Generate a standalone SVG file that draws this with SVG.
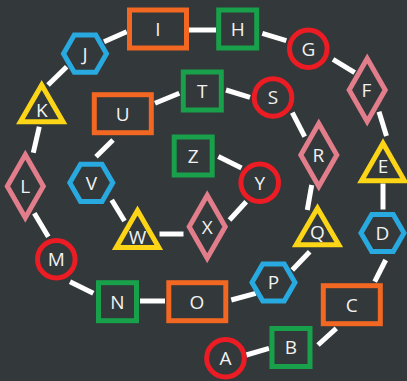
<svg xmlns="http://www.w3.org/2000/svg" width="407" height="381" viewBox="0 0 407 381">
<style>
.bg{fill:#33383a}
.n{fill:none;stroke-width:5}
.sq{stroke:#18a04a}
.rc{stroke:#f26722}
.ci{stroke:#ec1c24}
.hx{stroke:#28a9e0}
.dm{stroke:#e27d8c}
.tr{stroke:#fcd616}
.c line{stroke:#ffffff;stroke-width:5}
text{font-family:"Open Sans","DejaVu Sans",sans-serif;font-size:19px;fill:#f2f2f2;text-anchor:middle}
</style>
<rect class="bg" x="0" y="0" width="407" height="381"/>
<g id="connectors" class="c">
<line x1="246.3" y1="355" x2="269" y2="348.3"/>
<line x1="318" y1="345" x2="336.3" y2="328.3"/>
<line x1="374.7" y1="281.7" x2="385.7" y2="260"/>
<line x1="383" y1="183.5" x2="383" y2="209.5"/>
<line x1="386.5" y1="136" x2="379" y2="111.7"/>
<line x1="354.7" y1="72.7" x2="333" y2="59.3"/>
<line x1="286.3" y1="40.7" x2="262.3" y2="33.3"/>
<line x1="216" y1="30" x2="189" y2="30"/>
<line x1="126.7" y1="31.7" x2="104" y2="41.7"/>
<line x1="66.7" y1="66.7" x2="48" y2="85"/>
<line x1="39.3" y1="126.7" x2="33.3" y2="152.7"/>
<line x1="34.3" y1="213.3" x2="48.3" y2="236.7"/>
<line x1="70" y1="281.7" x2="93.3" y2="293.3"/>
<line x1="140" y1="301" x2="165" y2="301"/>
<line x1="231.3" y1="300" x2="255.7" y2="293.3"/>
<line x1="292.3" y1="270" x2="309.7" y2="251.7"/>
<line x1="311.7" y1="185" x2="307.3" y2="210"/>
<line x1="292.3" y1="112.7" x2="304.7" y2="136.7"/>
<line x1="250" y1="97.3" x2="226" y2="90"/>
<line x1="179.3" y1="93.3" x2="155" y2="103.3"/>
<line x1="113" y1="140" x2="96" y2="156.7"/>
<line x1="111.7" y1="200" x2="124.5" y2="221"/>
<line x1="159.5" y1="234" x2="183.5" y2="234"/>
<line x1="229.5" y1="220" x2="246.2" y2="201.7"/>
<line x1="241.5" y1="168" x2="218.3" y2="156.5"/>
</g>
<g id="A"><circle class="n ci" cx="225.5" cy="358.3" r="18.8"/><text x="225.5" y="365.1">A</text></g>
<g id="B"><rect class="n sq" x="272" y="328.5" width="38" height="38"/><text x="291" y="354.3">B</text></g>
<g id="C"><rect class="n rc" x="323.3" y="285.7" width="57" height="38"/><text x="351.8" y="311.5">C</text></g>
<g id="D"><polygon class="n hx" points="361,233 371.75,214.4 393.25,214.4 404,233 393.25,251.6 371.75,251.6"/><text x="382.5" y="239.8">D</text></g>
<g id="E"><polygon class="n tr" points="383,143.3 404.5,180.8 361.5,180.8"/><text x="383" y="173">E</text></g>
<g id="F"><polygon class="n dm" points="367.2,58.5 385.2,90 367.2,121.5 349.2,90"/><text x="366.5" y="96.8">F</text></g>
<g id="G"><circle class="n ci" cx="308.3" cy="48.7" r="18.8"/><text x="308.3" y="55.5">G</text></g>
<g id="H"><rect class="n sq" x="218.7" y="10" width="38" height="38"/><text x="237.7" y="35.8">H</text></g>
<g id="I"><rect class="n rc" x="129.5" y="10" width="57" height="38"/><text x="158" y="35.8">I</text></g>
<g id="J"><polygon class="n hx" points="63.5,53.7 74.25,35.1 95.75,35.1 106.5,53.7 95.75,72.3 74.25,72.3"/><text x="85" y="60.5">J</text></g>
<g id="K"><polygon class="n tr" points="41.7,85 63,121.8 20.4,121.8"/><text x="41.7" y="116.8">K</text></g>
<g id="L"><polygon class="n dm" points="25.3,154.7 43.3,186.2 25.3,217.7 7.3,186.2"/><text x="25.3" y="193">L</text></g>
<g id="M"><circle class="n ci" cx="56.3" cy="259.2" r="18.8"/><text x="56.3" y="266">M</text></g>
<g id="N"><rect class="n sq" x="98.5" y="282.7" width="38" height="38"/><text x="117.5" y="308.5">N</text></g>
<g id="O"><rect class="n rc" x="168.8" y="282.7" width="57" height="38"/><text x="197" y="308.5">O</text></g>
<g id="P"><polygon class="n hx" points="252,282.5 262.75,263.9 284.25,263.9 295,282.5 284.25,301.1 262.75,301.1"/><text x="273.5" y="289.3">P</text></g>
<g id="Q"><polygon class="n tr" points="317.5,208.3 338.8,244.8 296.2,244.8"/><text x="317.5" y="239">Q</text></g>
<g id="R"><polygon class="n dm" points="318.8,123.5 336.8,155 318.8,186.5 300.8,155"/><text x="318.3" y="161.8">R</text></g>
<g id="S"><circle class="n ci" cx="273" cy="97.5" r="18.8"/><text x="273" y="104.3">S</text></g>
<g id="T"><rect class="n sq" x="183.3" y="72" width="38" height="38"/><text x="202.3" y="97.8">T</text></g>
<g id="U"><rect class="n rc" x="94.3" y="94.7" width="57" height="38"/><text x="122.8" y="120.5">U</text></g>
<g id="V"><polygon class="n hx" points="69.8,182.8 80.55,164.2 102.05,164.2 112.8,182.8 102.05,201.4 80.55,201.4"/><text x="91.3" y="189.6">V</text></g>
<g id="W"><polygon class="n tr" points="137.5,210.5 158.8,247.5 116.2,247.5"/><text x="137.5" y="244">W</text></g>
<g id="X"><polygon class="n dm" points="207.2,195.2 225.2,226.7 207.2,258.2 189.2,226.7"/><text x="207.2" y="233.5">X</text></g>
<g id="Y"><circle class="n ci" cx="259.7" cy="182.8" r="18.8"/><text x="259.7" y="189.6">Y</text></g>
<g id="Z"><rect class="n sq" x="174.2" y="137" width="38" height="38"/><text x="193.2" y="162.8">Z</text></g>
</svg>
